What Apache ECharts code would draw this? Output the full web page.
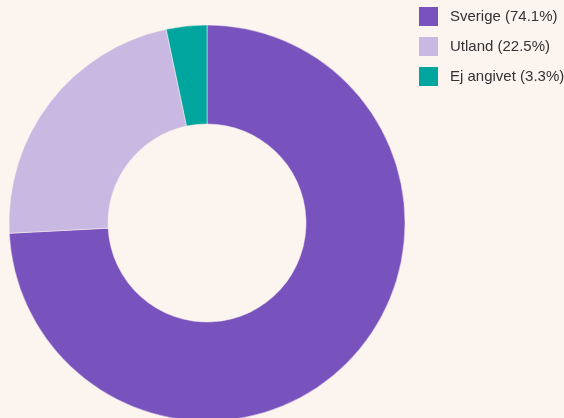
<!DOCTYPE html>
<html>
<head>
<meta charset="utf-8">
<script src="https://cdn.jsdelivr.net/npm/echarts@6/dist/echarts.min.js"></script>
<style>
  html, body { margin: 0; padding: 0; background: #FCF4EF; }
  #chart { width: 564px; height: 418px; }
</style>
</head>
<body>
<div id="chart"></div>
<script>
const categories = ['Sverige', 'Utland', 'Ej angivet'];
const shares = [74.1, 22.5, 3.3];
const colors = ['#7953BD', '#C9B8E2', '#00A59E'];

const chart = echarts.init(document.getElementById('chart'));
chart.setOption({
  backgroundColor: '#FCF4EF',
  color: colors,
  legend: {
    orient: 'vertical',
    left: 417,
    top: 5,
    padding: 0,
    itemWidth: 21,
    itemHeight: 21,
    itemGap: 7,
    icon: 'rect',
    formatter: name => {
      const i = categories.indexOf(name);
      return name + ' (' + shares[i] + '%)';
    },
    textStyle: {
      fontFamily: 'Liberation Sans, Arial, sans-serif',
      fontSize: 15,
      color: '#333',
      padding: [0, 0, 0, 6]
    }
  },
  series: [{
    type: 'pie',
    center: [207, 223],
    radius: [99, 198],
    startAngle: 90,
    clockwise: true,
    silent: true,
    label: { show: false },
    labelLine: { show: false },
    itemStyle: { borderColor: '#FCF4EF', borderWidth: 0.5 },
    data: categories.map((c, i) => ({ name: c, value: shares[i] }))
  }]
});
</script>
</body>
</html>
